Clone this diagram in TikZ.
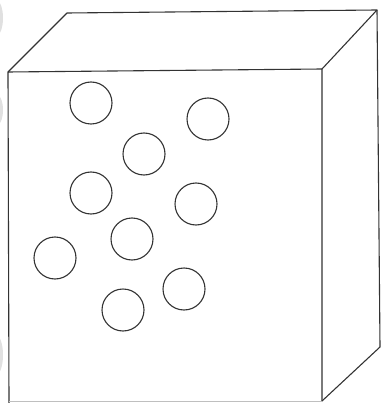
\documentclass[tikz,border=0pt]{standalone}
\begin{document}
\begin{tikzpicture}[x=1pt,y=-1pt,
  edge/.style={draw=black!80,line width=1.1pt,line join=round},
  ball/.style={draw=black!80,line width=1.1pt},
  blob/.style={fill=black!12,draw=none}]
\useasboundingbox (0,0) rectangle (382,403);
\begin{scope}
\clip (0,0) rectangle (382,403);
\fill[blob] (-4,18) ellipse (7 and 18);
\fill[blob] (-4,110) ellipse (7 and 16);
\fill[blob] (-4,355) ellipse (7 and 20);
\end{scope}
% box corners
\coordinate (ftl) at (8,72);
\coordinate (ftr) at (322,69);
\coordinate (fbl) at (9,403);
\coordinate (fbr) at (322,401);
\coordinate (btl) at (67,13);
\coordinate (btr) at (377,10);
\coordinate (bbr) at (380,347);
\draw[edge] (fbl) -- (ftl) -- (ftr) -- (fbr);
\draw[edge] (ftl) -- (btl) -- (btr) -- (ftr);
\draw[edge] (btr) -- (bbr) -- (fbr);
\draw[draw=black!25,line width=0.8pt] (fbl) ++(0,-2) -- (fbr);
% balls
\foreach \n/\x/\y in {a/91/103,b/208/119,c/144/154,d/91/193,e/196/204,f/132/239,g/55/258,h/184/289,i/123/310}
  \node[ball,circle,minimum size=42pt,inner sep=0pt] (\n) at (\x,\y) {};
\end{tikzpicture}
\end{document}
